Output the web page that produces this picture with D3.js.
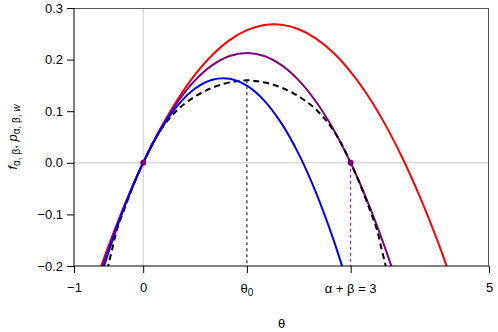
<!DOCTYPE html>
<html>
<head>
<meta charset="utf-8">
<script src="https://cdn.jsdelivr.net/npm/d3@7"></script>
<style>
  body { margin: 0; background: #fff; }
  text { font-family: "Liberation Sans", Arial, sans-serif; }
</style>
</head>
<body>
<svg id="chart" width="498" height="332"></svg>
<script>
// curves (theta, value)
const thetaRed = [-0.7, -0.6, -0.4, -0.2, 0, 0.25, 0.5, 0.75, 1.0, 1.25, 1.5, 1.75, 2.0, 2.25, 2.5, 2.75, 3.0, 3.25, 3.5, 3.75, 4.0, 4.25, 4.5];
const valRed = [-0.2356, -0.1974, -0.1256, -0.0598, 0, 0.0663, 0.1232, 0.1708, 0.2089, 0.2377, 0.2570, 0.2670, 0.2676, 0.2588, 0.2406, 0.2131, 0.1761, 0.1298, 0.0740, 0.0089, -0.0656, -0.1495, -0.2428];

const thetaPurple = [-0.7, -0.6, -0.4, -0.2, 0, 0.25, 0.5, 0.75, 1.0, 1.25, 1.5, 1.75, 2.0, 2.25, 2.5, 2.75, 3.0, 3.25, 3.5, 3.75];
const valPurple = [-0.2452, -0.2045, -0.1288, -0.0606, 0, 0.0651, 0.1183, 0.1598, 0.1893, 0.2071, 0.2130, 0.2071, 0.1893, 0.1598, 0.1183, 0.0651, 0, -0.0770, -0.1657, -0.2663];

const thetaBlue = [-0.7, -0.6, -0.4, -0.2, 0, 0.25, 0.5, 0.75, 1.0, 1.25, 1.5, 1.75, 2.0, 2.25, 2.5, 2.75, 3.0];
const valBlue = [-0.2590, -0.2146, -0.1333, -0.0617, 0, 0.0633, 0.1113, 0.1439, 0.1611, 0.1630, 0.1495, 0.1206, 0.0764, 0.0168, -0.0581, -0.1484, -0.2541];

const thetaDash = [-0.55, -0.505, -0.447, -0.376, -0.279, -0.14, 0, 0.15, 0.266, 0.386, 0.53, 0.72, 0.92, 1.16, 1.35, 1.5, 1.65, 1.84, 2.08, 2.28, 2.47, 2.614, 2.734, 2.85, 3.0, 3.14, 3.279, 3.376, 3.447, 3.505, 3.55];
const valDash = [-0.226, -0.199, -0.167, -0.128, -0.092, -0.043, 0, 0.041, 0.066, 0.087, 0.107, 0.126, 0.141, 0.153, 0.158, 0.160, 0.158, 0.153, 0.141, 0.126, 0.107, 0.087, 0.066, 0.041, 0, -0.043, -0.092, -0.128, -0.167, -0.199, -0.226];

const yTicks = [-0.2, -0.1, 0.0, 0.1, 0.2, 0.3];
const xTicks = [-1, 0, 1.5, 3, 5];
const theta0 = 1.5;
const alphaBeta = 3;
const markers = [[0, 0], [3, 0]];

const svg = d3.select("#chart");
const margin = {top: 8, right: 9, bottom: 66, left: 74};
const width = 498 - margin.left - margin.right;
const height = 332 - margin.top - margin.bottom;
const fs = 13;

const x = d3.scaleLinear().domain([-1, 5]).range([margin.left, margin.left + width]);
const y = d3.scaleLinear().domain([-0.2, 0.3]).range([margin.top + height, margin.top]);

svg.append("defs").append("clipPath").attr("id", "clip")
  .append("rect").attr("x", margin.left).attr("y", margin.top).attr("width", width).attr("height", height);

// grid lines through the origin
svg.append("line").attr("x1", x(0)).attr("x2", x(0)).attr("y1", y(-0.2)).attr("y2", y(0.3))
  .attr("stroke", "#c8c8c8").attr("stroke-width", 1);
svg.append("line").attr("x1", x(-1)).attr("x2", x(5)).attr("y1", y(0)).attr("y2", y(0))
  .attr("stroke", "#c8c8c8").attr("stroke-width", 1);

// vertical guides
svg.append("line").attr("x1", x(theta0)).attr("x2", x(theta0)).attr("y1", y(0.160)).attr("y2", y(-0.2))
  .attr("stroke", "#000").attr("stroke-width", 1).attr("stroke-dasharray", "3,3");
svg.append("line").attr("x1", x(alphaBeta)).attr("x2", x(alphaBeta)).attr("y1", y(0)).attr("y2", y(-0.2))
  .attr("stroke", "#800080").attr("stroke-width", 1).attr("stroke-dasharray", "3,3");

const line = d3.line().x(d => x(d[0])).y(d => y(d[1])).curve(d3.curveCatmullRom);
const plot = svg.append("g").attr("clip-path", "url(#clip)");

function drawCurve(ts, vs, color, dash) {
  const p = plot.append("path")
    .datum(ts.map((t, i) => [t, vs[i]]))
    .attr("d", line)
    .attr("fill", "none")
    .attr("stroke", color)
    .attr("stroke-width", 2);
  if (dash) p.attr("stroke-dasharray", dash);
}

drawCurve(thetaRed, valRed, "#ff0000");
drawCurve(thetaPurple, valPurple, "#800080");
drawCurve(thetaDash, valDash, "#000", "6,4");
drawCurve(thetaBlue, valBlue, "#0000ff");

svg.selectAll("circle.m").data(markers).join("circle")
  .attr("cx", d => x(d[0])).attr("cy", d => y(d[1])).attr("r", 3)
  .attr("fill", "#800080");

// frame
svg.append("line").attr("x1", x(-1)).attr("x2", x(5)).attr("y1", y(0.3) + 0.5).attr("y2", y(0.3) + 0.5)
  .attr("stroke", "#555");
svg.append("line").attr("x1", x(5) - 0.5).attr("x2", x(5) - 0.5).attr("y1", y(0.3)).attr("y2", y(-0.2))
  .attr("stroke", "#555");

// axes
const yAxis = d3.axisLeft(y).tickValues(yTicks).tickSize(7).tickPadding(4)
  .tickFormat(d => d3.format(".1f")(d).replace("-", "\u2212"));
const gy = svg.append("g").attr("transform", `translate(${x(-1)},0)`).call(yAxis);

const xLabels = {"-1": "\u22121", "0": "0", "5": "5"};
const xAxis = d3.axisBottom(x).tickValues(xTicks).tickSize(7).tickPadding(10)
  .tickFormat(d => xLabels[d] || "");
const gx = svg.append("g").attr("transform", `translate(0,${y(-0.2)})`).call(xAxis);

[gx, gy].forEach(g => {
  g.selectAll(".tick line").attr("stroke", "#000");
  g.selectAll("text").attr("font-size", fs).attr("fill", "#000")
    .attr("font-family", "Liberation Sans, Arial, sans-serif");
});
gy.select(".domain").attr("stroke", "#000").attr("d", `M0,${y(0.3)}V${y(-0.2)}`);
gx.select(".domain").attr("stroke", "#000").attr("d", `M${x(-1)},0H${x(5)}`);

// special x tick labels
const t0 = svg.append("text").attr("x", x(theta0)).attr("y", 293)
  .attr("text-anchor", "middle").attr("font-size", fs);
t0.append("tspan").text("\u03b8");
t0.append("tspan").attr("font-size", 10).attr("dy", 3).text("0");

svg.append("text").attr("x", x(alphaBeta)).attr("y", 293)
  .attr("text-anchor", "middle").attr("font-size", fs)
  .text("\u03b1 + \u03b2 = 3");

// axis titles
svg.append("text").attr("x", x(2)).attr("y", 328)
  .attr("text-anchor", "middle").attr("font-size", fs).text("\u03b8");

const yt = svg.append("text").attr("transform", `translate(17,${(y(0.3) + y(-0.2)) / 2}) rotate(-90)`)
  .attr("text-anchor", "middle").attr("font-size", fs);
yt.append("tspan").attr("font-style", "italic").text("f");
yt.append("tspan").attr("font-size", 10).attr("dy", 3).text("\u03b1, \u03b2");
yt.append("tspan").attr("dy", -3).text(", ");
yt.append("tspan").attr("font-style", "italic").text("p");
yt.append("tspan").attr("font-size", 10).attr("dy", 3).text("\u03b1, \u03b2, ");
yt.append("tspan").attr("font-size", 10).attr("font-style", "italic").text("w");
</script>
</body>
</html>
